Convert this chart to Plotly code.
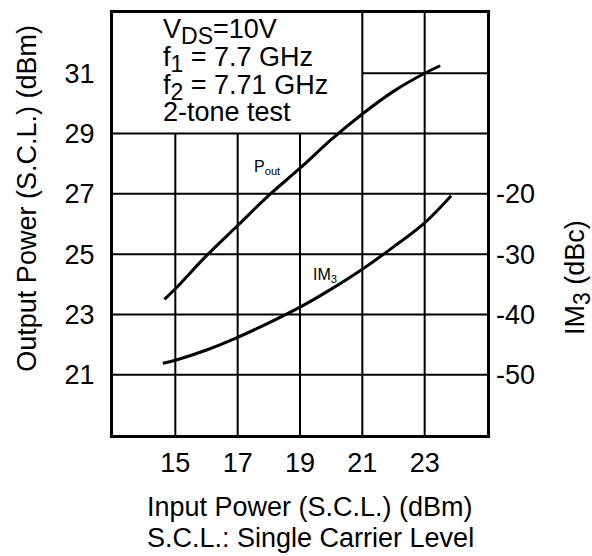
import plotly.graph_objects as go

# Data
pin_pout = [14.65, 15, 16, 17, 18, 19, 20, 21, 22, 23, 23.5]
pout = [23.5, 23.85, 24.95, 25.95, 26.95, 27.85, 28.8, 29.65, 30.4, 31.0, 31.25]

pin_im3 = [14.6, 15, 16, 17, 18, 19, 20, 21, 22, 23, 23.85]
im3 = [-48.1, -47.6, -45.9, -43.8, -41.4, -38.8, -35.8, -32.5, -28.8, -24.8, -20.3]

x_ticks = [15, 17, 19, 21, 23]
y_ticks = [21, 23, 25, 27, 29, 31]
y2_ticks = [-20, -30, -40, -50]
y2_ticktext = ["-20", "-30", "-40", "-50"]

X_RANGE = [13, 25]
Y_RANGE = [19, 33]
Y2_RANGE = [-60, 10]

FONT = "Liberation Sans, Arial, Helvetica, sans-serif"
FS = 27
SUB = "<sub><span style='font-size:23px'>{}</span></sub>"

# plot area in page pixels
PL, PR, PT, PB = 113, 487, 10, 435
W, H = 592, 556


def px(xp):
    return (xp - PL) / (PR - PL)


def py(yp):
    return 1 - (yp - PT) / (PB - PT)


fig = go.Figure()
fig.add_trace(go.Scatter(x=pin_pout, y=pout, mode="lines", line=dict(color="black", width=3, shape="spline"),
                         showlegend=False, hoverinfo="skip"))
fig.add_trace(go.Scatter(x=pin_im3, y=im3, mode="lines", yaxis="y2", line=dict(color="black", width=3, shape="spline"),
                         showlegend=False, hoverinfo="skip"))

# grid lines (partial in the upper-left text region)
shapes = []
for xv in x_ticks:
    top = 33 if xv >= 21 else 29
    shapes.append(dict(type="line", xref="x", yref="y", x0=xv, x1=xv, y0=Y_RANGE[0], y1=top,
                       line=dict(color="black", width=2), layer="below"))
for yv in y_ticks:
    left = 21 if yv > 29 else X_RANGE[0]
    shapes.append(dict(type="line", xref="x", yref="y", x0=left, x1=X_RANGE[1], y0=yv, y1=yv,
                       line=dict(color="black", width=2), layer="below"))

box_lines = ["V" + SUB.format("DS") + "=10V", "f" + SUB.format("1") + " = 7.7 GHz",
             "f" + SUB.format("2") + " = 7.71 GHz", "2-tone test"]
box_y = [29, 57, 85, 110]

annotations = []
for t, yy in zip(box_lines, box_y):
    annotations.append(dict(x=px(161), y=py(yy), xref="paper", yref="paper", xanchor="left", yanchor="middle",
                            align="left", showarrow=False, font=dict(size=FS, family=FONT, color="black"), text=t))

annotations += [
    dict(x=17.95, y=27.86, xref="x", yref="y", showarrow=False,
         font=dict(size=16, family=FONT, color="black"), text="P<sub>out</sub>"),
    dict(x=19.8, y=24.28, xref="x", yref="y", showarrow=False,
         font=dict(size=16, family=FONT, color="black"), text="IM<sub>3</sub>"),
    dict(x=px(27), y=py(197), xref="paper", yref="paper", showarrow=False, textangle=-90,
         xanchor="center", yanchor="middle",
         font=dict(size=FS, family=FONT, color="black"), text="Output Power (S.C.L.) (dBm)"),
    dict(x=px(577), y=py(277), xref="paper", yref="paper", showarrow=False,
         textangle=-90, xanchor="center", yanchor="middle",
         font=dict(size=FS, family=FONT, color="black"), text="IM" + SUB.format("3") + " (dBc)"),
    dict(x=px(310), y=py(508), xref="paper", yref="paper", showarrow=False,
         xanchor="center", yanchor="middle",
         font=dict(size=FS, family=FONT, color="black"), text="Input Power (S.C.L.) (dBm)"),
    dict(x=px(310), y=py(539), xref="paper", yref="paper", showarrow=False,
         xanchor="center", yanchor="middle",
         font=dict(size=FS, family=FONT, color="black"), text="S.C.L.: Single Carrier Level"),
]

fig.update_layout(
    width=W, height=H,
    margin=dict(l=PL, r=W - PR, t=PT, b=H - PB),
    paper_bgcolor="white", plot_bgcolor="white",
    font=dict(family=FONT, size=FS, color="black"),
    shapes=shapes, annotations=annotations,
    xaxis=dict(range=X_RANGE, tickvals=x_ticks, showgrid=False, zeroline=False,
               showline=True, linecolor="black", linewidth=3, mirror=True, ticks="",
               ticklabelstandoff=2, tickfont=dict(size=FS)),
    yaxis=dict(range=Y_RANGE, tickvals=y_ticks, showgrid=False, zeroline=False,
               showline=True, linecolor="black", linewidth=3, mirror=True, ticks="",
               ticklabelstandoff=10, tickfont=dict(size=FS)),
    yaxis2=dict(range=Y2_RANGE, tickvals=y2_ticks, ticktext=y2_ticktext, overlaying="y", side="right",
                showgrid=False, zeroline=False, showline=False, ticks="", ticklabelstandoff=8,
                tickfont=dict(size=FS)),
)

fig.write_html("out.html", config={"displayModeBar": False, "staticPlot": True},
               post_script="document.body.style.margin='0';")
